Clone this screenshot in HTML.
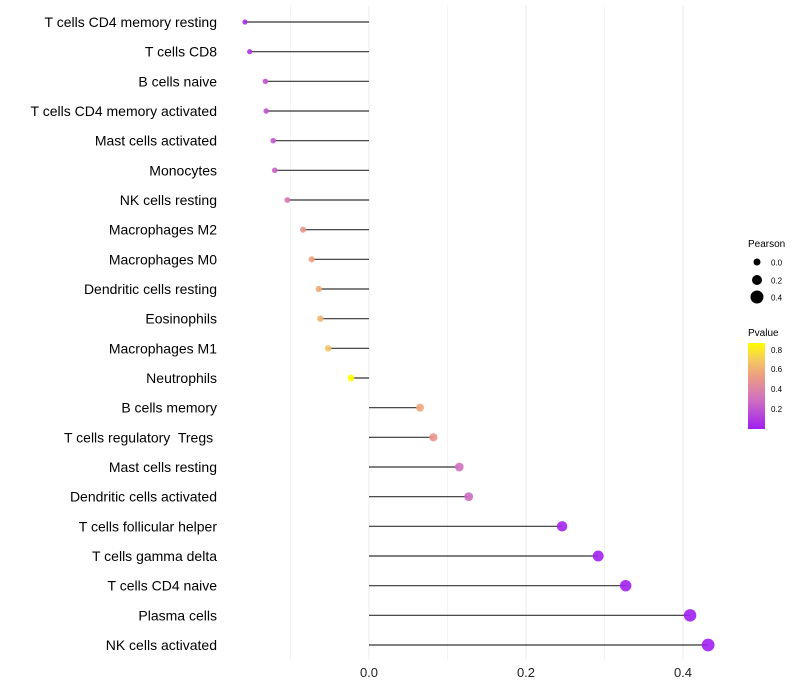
<!DOCTYPE html>
<html><head><meta charset="utf-8"><style>
body{margin:0;background:#fff}
svg{display:block;font-family:"Liberation Sans",sans-serif}
#labels text{white-space:pre}
</style></head><body>
<svg id="chart" width="800" height="700" viewBox="0 0 800 700">
<defs><linearGradient id="pg" x1="0" y1="1" x2="0" y2="0">
<stop offset="0" stop-color="#a020f0"/><stop offset="0.34" stop-color="#d070c0"/><stop offset="0.63" stop-color="#eda080"/><stop offset="0.8" stop-color="#f5c860"/><stop offset="1" stop-color="#ffff00"/></linearGradient></defs>
<g id="grid"></g>
<g id="marks"></g>
<g id="labels"></g>
<g id="xt"></g>
<g>
<text x="748" y="247" font-size="10">Pearson</text>
<circle cx="757" cy="262" r="3.5" fill="#000"/><text x="771" y="265.5" font-size="8">0.0</text>
<circle cx="757" cy="280" r="5" fill="#000"/><text x="771" y="283.5" font-size="8">0.2</text>
<circle cx="757" cy="297" r="6.5" fill="#000"/><text x="771" y="300.5" font-size="8">0.4</text>
</g>
<g>
<text x="748" y="336" font-size="10">Pvalue</text>
<rect x="748" y="343" width="17" height="86" fill="url(#pg)"/>
<text x="771" y="353" font-size="8">0.8</text>
<text x="771" y="372" font-size="8">0.6</text>
<text x="771" y="392" font-size="8">0.4</text>
<text x="771" y="412" font-size="8">0.2</text>
</g>
</svg>
<script>
const categories=["T cells CD4 memory resting","T cells CD8","B cells naive","T cells CD4 memory activated","Mast cells activated","Monocytes","NK cells resting","Macrophages M2","Macrophages M0","Dendritic cells resting","Eosinophils","Macrophages M1","Neutrophils","B cells memory","T cells regulatory  Tregs ","Mast cells resting","Dendritic cells activated","T cells follicular helper","T cells gamma delta","T cells CD4 naive","Plasma cells","NK cells activated"];
const pearson=[-0.158,-0.152,-0.132,-0.131,-0.122,-0.120,-0.104,-0.084,-0.073,-0.064,-0.062,-0.052,-0.023,0.065,0.082,0.115,0.127,0.246,0.292,0.327,0.409,0.432];
const pvalues=[0.05,0.08,0.2,0.2,0.22,0.25,0.35,0.5,0.55,0.6,0.62,0.68,0.87,0.58,0.5,0.3,0.28,0.02,0.01,0.005,0.001,0.001];
const xTicks=[0,0.2,0.4];
const xGrid=[-0.1,0,0.1,0.2,0.3,0.4];
const NS="http://www.w3.org/2000/svg";
const X=v=>369+v*785;
const Y=i=>22+i*(623/21);
const R=v=>3.6+v*6.5;
const stops=[[0,[160,32,240]],[0.3,[208,112,192]],[0.55,[237,160,128]],[0.7,[245,200,96]],[0.875,[255,255,0]]];
function col(p){p=Math.min(p,0.875);for(let i=1;i<stops.length;i++){if(p<=stops[i][0]){const a=stops[i-1],b=stops[i],t=(p-a[0])/(b[0]-a[0]);return "rgb("+a[1].map((c,k)=>Math.round(c+(b[1][k]-c)*t)).join(",")+")";}}return "rgb(255,255,0)";}
function mk(t,at,p){const e=document.createElementNS(NS,t);for(const k in at)e.setAttribute(k,at[k]);p.appendChild(e);return e;}
const g=document.getElementById('grid'),m=document.getElementById('marks'),lb=document.getElementById('labels'),xt=document.getElementById('xt');
xGrid.forEach(v=>{const l=mk('line',{x1:X(v),x2:X(v),y1:5,y2:660,stroke:v*10%2===0?'#ebebeb':'#f4f4f4','stroke-width':1},g);

});
categories.forEach((c,i)=>{
const y=Y(i);
const t=mk('text',{x:217,y:y+5,'text-anchor':'end','font-size':14,fill:'#000'},lb);t.textContent=c;


const l=mk('line',{x1:X(0),x2:X(pearson[i]),y1:y,y2:y,stroke:'#000','stroke-opacity':0.8,'stroke-width':1.2},m);


const ci=mk('circle',{cx:X(pearson[i]),cy:y,r:Math.max(1.8,R(pearson[i])),fill:col(pvalues[i]),'fill-opacity':0.9},m);


});
xTicks.forEach(v=>{const t=mk('text',{x:X(v),y:677,'text-anchor':'middle','font-size':13,fill:'#222'},xt);t.textContent=v.toFixed(1);

});
</script>
</body></html>
